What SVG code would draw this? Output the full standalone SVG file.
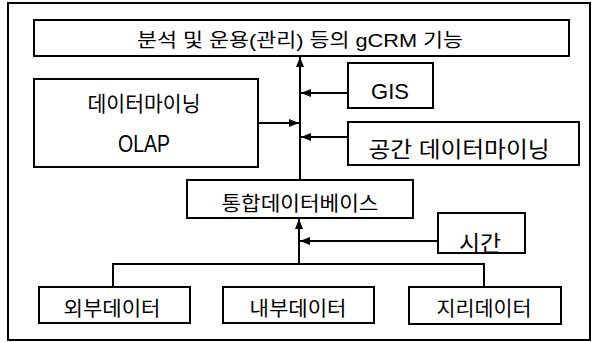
<svg xmlns="http://www.w3.org/2000/svg" width="596" height="342" viewBox="0 0 596 342">
<defs>
<marker id="ah" viewBox="0 0 10 8" refX="10" refY="4" markerWidth="10" markerHeight="8" markerUnits="userSpaceOnUse" orient="auto">
<path d="M0,0 L10,4 L0,8 z" fill="#000"/>
</marker>
<style>
.box{fill:#fff;stroke:#000;stroke-width:2}
.t{font-family:"Liberation Sans","Noto Sans CJK KR",sans-serif;fill:#000;text-anchor:middle}
.c{fill:none;stroke:#000;stroke-width:2}
</style>
</defs>
<rect x="0" y="0" width="596" height="342" fill="#fff"/>
<rect id="frame" x="8" y="3" width="582" height="337" fill="none" stroke="#000" stroke-width="2"/>
<g id="top">
<rect class="box" x="34" y="20" width="535" height="36"/>
<text class="t" x="300" y="47" font-size="19" textLength="326" lengthAdjust="spacingAndGlyphs">분석 및 운용(관리) 등의 gCRM 기능</text>
</g>
<g id="dm">
<rect class="box" x="34" y="79" width="224" height="88"/>
<text class="t" x="144" y="111" font-size="21" textLength="113" lengthAdjust="spacingAndGlyphs">데이터마이닝</text>
<text class="t" x="144" y="152" font-size="23" textLength="52" lengthAdjust="spacingAndGlyphs">OLAP</text>
</g>
<g id="gis">
<rect class="box" x="348" y="63" width="85" height="45"/>
<text class="t" x="390" y="99" font-size="22">GIS</text>
</g>
<g id="sdm">
<rect class="box" x="348" y="122" width="231" height="43"/>
<text class="t" x="459" y="157" font-size="22" textLength="181" lengthAdjust="spacingAndGlyphs">공간 데이터마이닝</text>
</g>
<g id="idb">
<rect class="box" x="187" y="180" width="226" height="38"/>
<text class="t" x="300" y="211" font-size="20" textLength="157" lengthAdjust="spacingAndGlyphs">통합데이터베이스</text>
</g>
<g id="time">
<rect class="box" x="438" y="213" width="87" height="40"/>
<text class="t" x="480" y="251" font-size="22" textLength="42" lengthAdjust="spacingAndGlyphs">시간</text>
</g>
<g id="ext">
<rect class="box" x="39" y="287" width="151" height="36"/>
<text class="t" x="112" y="316" font-size="20" textLength="97" lengthAdjust="spacingAndGlyphs">외부데이터</text>
</g>
<g id="int">
<rect class="box" x="223" y="287" width="151" height="36"/>
<text class="t" x="298" y="316" font-size="20" textLength="97" lengthAdjust="spacingAndGlyphs">내부데이터</text>
</g>
<g id="geo">
<rect class="box" x="409" y="287" width="152" height="37"/>
<text class="t" x="484" y="316" font-size="20" textLength="95" lengthAdjust="spacingAndGlyphs">지리데이터</text>
</g>
<g id="connectors">
<line class="c" x1="300" y1="180" x2="300" y2="57" marker-end="url(#ah)"/>
<line class="c" x1="258" y1="123" x2="299" y2="123" marker-end="url(#ah)"/>
<line class="c" x1="348" y1="93" x2="301" y2="93" marker-end="url(#ah)"/>
<line class="c" x1="348" y1="137" x2="301" y2="137" marker-end="url(#ah)"/>
<line class="c" x1="299" y1="264" x2="299" y2="219" marker-end="url(#ah)"/>
<line class="c" x1="438" y1="241" x2="300" y2="241" marker-end="url(#ah)"/>
<polyline class="c" points="113,287 113,264 484,264 484,287"/>
</g>
</svg>
